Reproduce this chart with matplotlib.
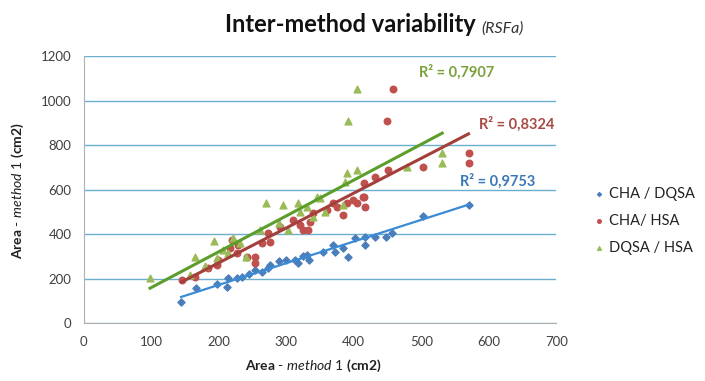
import numpy as np
import matplotlib
matplotlib.use("Agg")
import matplotlib.pyplot as plt

plt.rcParams['font.family'] = ['Lato', 'DejaVu Sans']
plt.rcParams['mathtext.fontset'] = 'custom'
plt.rcParams['mathtext.rm'] = 'Lato'
plt.rcParams['mathtext.it'] = 'Lato:italic'
plt.rcParams['mathtext.bf'] = 'Lato:bold'

# CHA / DQSA
blue_x = [144, 166, 197, 212, 214, 227, 234, 254, 264, 273, 276, 289, 313, 318, 331, 333,
          355, 369, 372, 384, 391, 402, 417, 417, 432, 447, 457, 503, 570, 300, 245, 325]
blue_y = [96, 157, 175, 162, 202, 202, 207, 238, 229, 247, 261, 279, 283, 270, 306, 283,
          319, 350, 319, 337, 297, 382, 350, 387, 387, 387, 404, 481, 530, 285, 222, 300]
# CHA / HSA
red_x = [145, 165, 184, 197, 199, 217, 219, 227, 229, 242, 254, 254, 264, 273, 276, 291,
         310, 320, 325, 332, 335, 340, 360, 369, 375, 384, 390, 399, 405, 414, 417, 458,
         449, 415, 415, 432, 451, 503, 570, 570]
red_y = [193, 207, 247, 261, 283, 337, 373, 315, 350, 297, 297, 270, 360, 404, 364, 431,
         463, 440, 418, 418, 454, 494, 508, 539, 521, 485, 539, 553, 539, 566, 521, 1052,
         908, 566, 629, 656, 688, 701, 764, 719]
# DQSA / HSA
green_x = [98, 157, 165, 180, 193, 197, 206, 214, 221, 231, 240, 261, 270, 289, 295, 303,
           318, 320, 331, 340, 350, 358, 384, 387, 405, 392, 390, 404, 479, 531, 531, 346]
green_y = [202, 216, 297, 256, 369, 292, 328, 315, 382, 360, 297, 418, 539, 449, 530, 418,
           539, 499, 521, 476, 562, 499, 530, 634, 1052, 908, 674, 688, 701, 764, 719, 566]

# trend lines (slope, intercept) and R²
blue_fit = (0.974, -23)
red_fit = (1.565, -42)
green_fit = (1.609, -1)
r2_labels = ['R² = 0,9753', 'R² = 0,8324', 'R² = 0,7907']
series_names = ['CHA / DQSA', 'CHA/ HSA', 'DQSA / HSA']

fig = plt.figure(figsize=(7.05, 3.81), dpi=100)
ax = fig.add_axes([0.119, 0.152, 0.670, 0.701])

c_blue, c_red, c_green = '#4a7ebb', '#c0504d', '#9bbb59'
ax.scatter(blue_x, blue_y, marker='D', s=13, color=c_blue, label=series_names[0], zorder=3)
ax.scatter(red_x, red_y, marker='o', s=22, color=c_red, label=series_names[1], zorder=3)
ax.scatter(green_x, green_y, marker='^', s=24, color=c_green, label=series_names[2], zorder=3)

for xs, fit, col in [(blue_x, blue_fit, '#3a8ad6'), (red_x, red_fit, '#a33f3b'),
                     (green_x, green_fit, '#5c9d2c')]:
    xx = np.array([min(xs), max(xs)])
    w = 1.6 if col == '#3a8ad6' else 2.2
    ax.plot(xx, fit[0] * xx + fit[1], color=col, lw=w, zorder=4)

ax.text(558, 616, r2_labels[0], color='#3b78b8', fontsize=10.5, fontweight='bold')
ax.text(585, 872, r2_labels[1], color='#a84a45', fontsize=10.5, fontweight='bold')
ax.text(496, 1105, r2_labels[2], color='#7aa03c', fontsize=10.5, fontweight='bold')

ax.set_xlim(0, 700)
ax.set_ylim(0, 1200)
ax.set_xticks(range(0, 701, 100))
ax.set_yticks(range(0, 1201, 200))
ax.yaxis.grid(True, color='#6aaed0', lw=1)
ax.set_axisbelow(True)
for s in ['top', 'right']:
    ax.spines[s].set_visible(False)
for s in ['left', 'bottom']:
    ax.spines[s].set_color('#b0b0b0')
ax.tick_params(length=0, labelsize=9.5, labelcolor='#404040', pad=9)

label = r'$\mathbf{Area}$ - $\mathit{method\ 1}$ $\mathbf{(cm2)}$'
fig.text(0.445, 0.03, label, ha='center', fontsize=10, color='#202020')
fig.text(0.025, 0.50, label, ha='center', va='center', rotation=90, fontsize=10,
         color='#202020')

fig.text(0.497, 0.915, 'Inter-method variability', ha='center', fontsize=17,
         fontweight='bold', color='#111111')
fig.text(0.683, 0.915, '(RSFa)', ha='left', fontsize=11.5, style='italic', color='#333333')

leg = ax.legend(loc='upper left', bbox_to_anchor=(1.05, 0.56), frameon=False,
                fontsize=10.5, handletextpad=0.3, labelspacing=0.9, markerscale=0.55,
                handlelength=0.8)
for t in leg.get_texts():
    t.set_color('#222222')

fig.savefig('out.png', dpi=100)
